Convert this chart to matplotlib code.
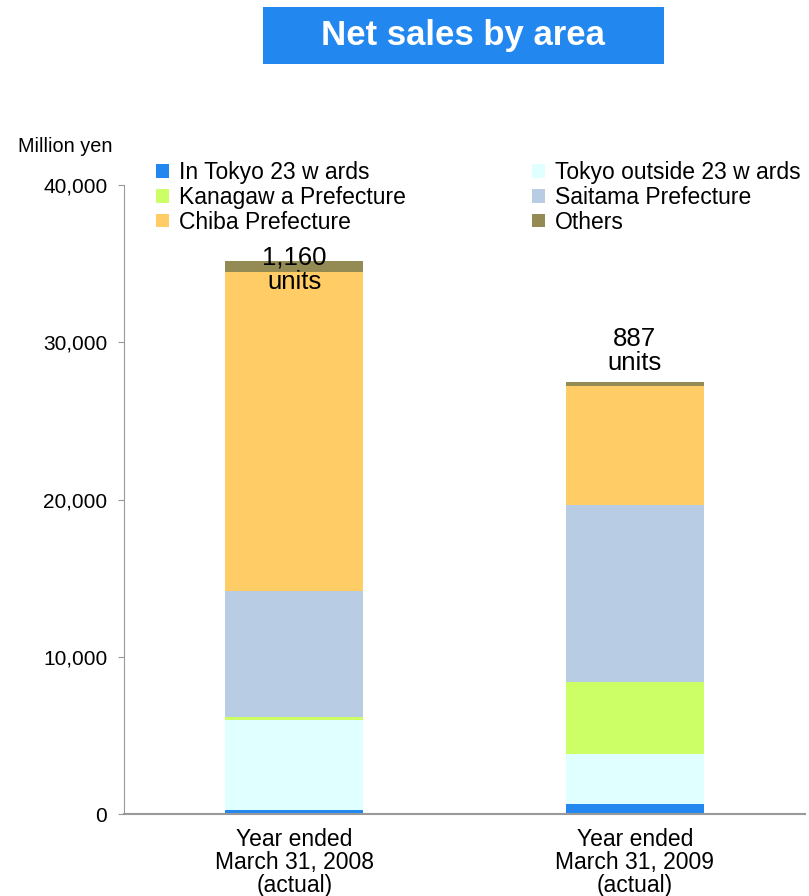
import matplotlib
matplotlib.use("Agg")
import matplotlib.pyplot as plt
from matplotlib.patches import Patch, FancyBboxPatch

plt.rcParams['font.family'] = ['Liberation Sans', 'DejaVu Sans']

categories = ["Year ended\nMarch 31, 2008\n(actual)", "Year ended\nMarch 31, 2009\n(actual)"]
series_names = ["In Tokyo 23 w ards", "Tokyo outside 23 w ards", "Kanagaw a Prefecture",
                "Saitama Prefecture", "Chiba Prefecture", "Others"]
tokyo23 = [250, 650]
tokyo_out = [5730, 3170]
kanagawa = [190, 4570]
saitama = [8010, 11260]
chiba = [20300, 7540]
others = [720, 300]
unit_labels = ["1,160\nunits", "887\nunits"]
yticks = [0, 10000, 20000, 30000, 40000]
ytick_labels = ["0", "10,000", "20,000", "30,000", "40,000"]

colors = ["#2288F0", "#E0FFFF", "#CCFF66", "#B8CCE4", "#FFCC66", "#948A54"]

fig = plt.figure(figsize=(8.09, 8.96), dpi=100)
ax = fig.add_axes([0.1533, 0.0915, 0.842, 0.702])

xpos = [0.5, 1.5]
series = [tokyo23, tokyo_out, kanagawa, saitama, chiba, others]
bottom = [0, 0]
handles = []
for name, vals, c in zip(series_names, series, colors):
    ax.bar(xpos, vals, width=0.405, bottom=bottom, color=c, edgecolor='none')
    bottom = [b + v for b, v in zip(bottom, vals)]
    handles.append(Patch(facecolor=c, edgecolor='none', label=name))

label_y = [34600, 29450]
for x, ly, t in zip(xpos, label_y, unit_labels):
    ax.text(x, ly, t, ha='center', va='center', fontsize=18.5, linespacing=1.0, color='black')

ax.set_xlim(0, 2)
ax.set_ylim(0, 40000)
ax.set_yticks(yticks)
ax.set_yticklabels(ytick_labels, fontsize=15)
ax.set_xticks(xpos)
ax.set_xticklabels(categories, fontsize=16.5, linespacing=1.0)
ax.tick_params(axis='x', length=0, pad=10)
ax.tick_params(axis='y', length=4, color='#999999', pad=8)
for s in ['top', 'right']:
    ax.spines[s].set_visible(False)
ax.spines['left'].set_color('#999999')
ax.spines['bottom'].set_color('#999999')
ax.spines['bottom'].set_linewidth(1.5)

fig.text(18/809, 1 - 146/896, "Million yen", fontsize=14.3, ha='left', va='center')

order = [0, 2, 4, 1, 3, 5]
fig.legend([handles[i] for i in order], [series_names[i] for i in order],
           ncol=2, loc='upper left', bbox_to_anchor=(145/809, 1 - 150/896),
           frameon=False, fontsize=16.5, handlelength=0.55, handleheight=0.55,
           handletextpad=0.45, columnspacing=5.5, labelspacing=0.07, borderpad=0)

box = FancyBboxPatch((263/809, 1 - 64/896), (664 - 263)/809, 57/896,
                     boxstyle='square,pad=0', transform=fig.transFigure,
                     facecolor='#2288F0', edgecolor='none')
fig.patches.append(box)
fig.text(463/809, 1 - 36/896, "Net sales by area", fontsize=25, fontweight='bold',
         color='white', ha='center', va='center')

fig.savefig("out.png", dpi=100)
